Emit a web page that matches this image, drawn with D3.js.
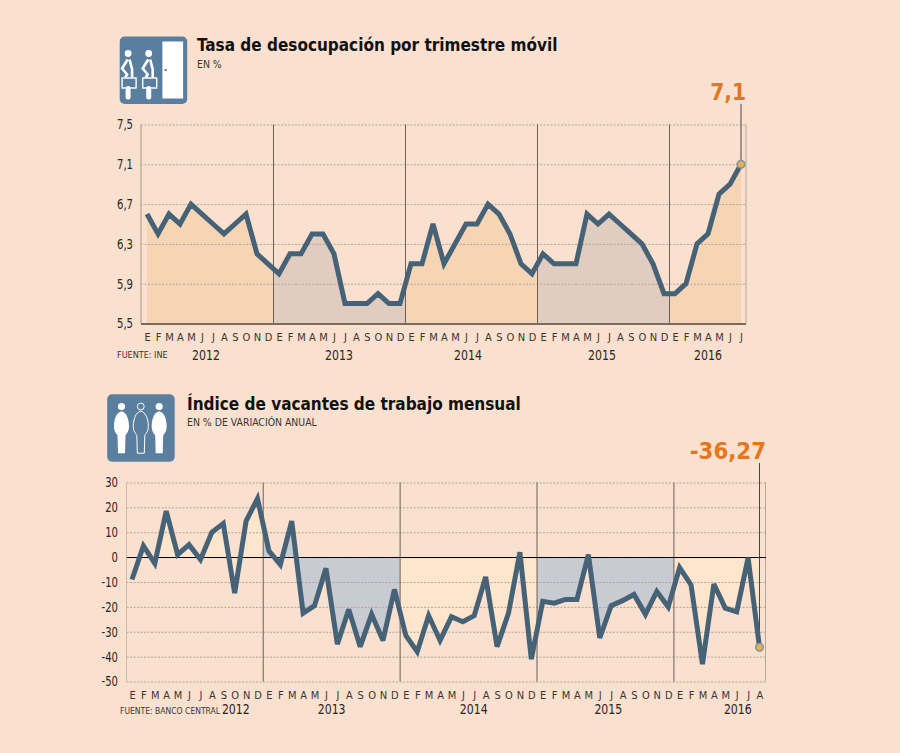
<!DOCTYPE html>
<html>
<head>
<meta charset="utf-8">
<script src="https://cdn.jsdelivr.net/npm/d3@7"></script>
<style>
  html, body { margin: 0; padding: 0; background: #f9e0cf; }
  svg { display: block; }
  text { font-family: "DejaVu Sans Condensed", "DejaVu Sans", sans-serif; fill: #2b2622; }
  .domain { display: none; }
  .grid line { stroke: #b5a497; stroke-width: 1; stroke-dasharray: 2 1.5; }
  .grid text { font-size: 14px; fill: #2b2622; }
  .months line { display: none; }
  .months text { font-size: 11px; fill: #3a3531; }
</style>
</head>
<body>
<div id="chart"></div>
<script>
const months = ['E', 'F', 'M', 'A', 'M', 'J', 'J', 'A', 'S', 'O', 'N', 'D'];
const years = ['2012', '2013', '2014', '2015', '2016'];

const desocupacion = [
  6.6, 6.4, 6.6, 6.5, 6.7, 6.6, 6.5, 6.4, 6.5, 6.6, 6.2, 6.1,
  6.0, 6.2, 6.2, 6.4, 6.4, 6.2, 5.7, 5.7, 5.7, 5.8, 5.7, 5.7,
  6.1, 6.1, 6.5, 6.1, 6.3, 6.5, 6.5, 6.7, 6.6, 6.4, 6.1, 6.0,
  6.2, 6.1, 6.1, 6.1, 6.6, 6.5, 6.6, 6.5, 6.4, 6.3, 6.1, 5.8,
  5.8, 5.9, 6.3, 6.4, 6.8, 6.9, 7.1
];
const desocupacionTicks = [5.5, 5.9, 6.3, 6.7, 7.1, 7.5];

const vacantes = [
  -9, 4.5, -2.5, 18.5, 1, 5, -1, 10, 13.5, -14.5, 14.5, 23.5,
  2.5, -3, 14.5, -22.5, -19.5, -4.5, -35, -21, -36, -23, -33.5, -13,
  -31.5, -38, -23.5, -33.5, -24, -26, -23.5, -8, -36, -22.5, 2, -41,
  -17.8, -18.5, -17, -17, 1, -32.5, -19.5, -17.5, -15, -23, -13.8, -20,
  -4.2, -11.2, -43, -10.8, -20.5, -22, -0.3, -36.27
];
const vacantesTicks = [-50, -40, -30, -20, -10, 0, 10, 20, 30];

const comma = d3.format('.1f');
const svg = d3.select('#chart').append('svg').attr('width', 900).attr('height', 753);
const defs = svg.append('defs');

// the original type is narrower than DejaVu Condensed, so squeeze it horizontally
function squeeze(sel, k) {
  sel.each(function () {
    d3.select(this)
      .attr('textLength', this.getComputedTextLength() * k)
      .attr('lengthAdjust', 'spacingAndGlyphs');
  });
}

function drawChart(o) {
  const x = d3.scaleLinear().domain([0, o.data.length - 1]).range([o.x0, o.x1]);
  const y = d3.scaleLinear().domain(o.domain).range([o.bottom, o.top]);
  const g = svg.append('g');

  // one clip band per year so each year gets its own fill
  years.forEach((yr, i) => {
    const a = i === 0 ? 0 : i * 12 - 0.5;
    const b = i === years.length - 1 ? o.data.length - 1 : (i + 1) * 12 - 0.5;
    defs.append('clipPath').attr('id', `${o.id}-${yr}`).append('rect')
      .attr('x', x(a)).attr('width', x(b) - x(a))
      .attr('y', 0).attr('height', 753);
    g.append('path')
      .datum(o.data)
      .attr('clip-path', `url(#${o.id}-${yr})`)
      .attr('fill', o.fills[i % 2])
      .attr('d', d3.area().x((d, j) => x(j)).y0(y(o.base)).y1(d => y(d)));
  });

  g.append('g').attr('class', 'grid')
    .attr('transform', `translate(${o.left},0)`)
    .call(d3.axisLeft(y).tickValues(o.ticks).tickFormat(o.tickFormat)
      .tickSize(o.left - o.right).tickPadding(8))
    .call(s => s.selectAll('text').attr('x', o.labelX - o.left).call(squeeze, 0.8));

  // frame
  g.append('line').attr('x1', o.left).attr('x2', o.left).attr('y1', y(o.domain[1])).attr('y2', y(o.domain[0]))
    .attr('stroke', '#cdbba8').attr('stroke-width', o.leftWidth);
  g.append('line').attr('x1', o.right).attr('x2', o.right).attr('y1', y(o.domain[1])).attr('y2', y(o.domain[0]))
    .attr('stroke', '#b8a696').attr('stroke-width', 1);

  // year dividers
  years.slice(1).forEach((yr, i) => {
    const px = x((i + 1) * 12 - 0.5);
    g.append('line').attr('x1', px).attr('x2', px).attr('y1', y(o.domain[1])).attr('y2', y(o.domain[0]))
      .attr('stroke', '#6e5f55').attr('stroke-width', 1);
  });

  // base line
  g.append('line').attr('x1', o.left).attr('x2', o.right).attr('y1', y(o.base)).attr('y2', y(o.base))
    .attr('stroke', o.baseColor).attr('stroke-width', o.baseWidth).attr('shape-rendering', 'crispEdges');

  g.append('g').attr('class', 'months')
    .attr('transform', `translate(0,${o.monthY})`)
    .call(d3.axisBottom(x).tickValues(d3.range(o.data.length))
      .tickFormat(i => months[i % 12]).tickSize(0).tickPadding(0));

  years.forEach((yr, i) => {
    g.append('text').attr('x', x(o.yearAt[i])).attr('y', o.yearY).attr('text-anchor', 'middle')
      .style('font-size', '14px').text(yr).call(squeeze, 0.87);
  });

  const last = o.data.length - 1;
  g.append('line').attr('x1', x(last)).attr('x2', x(last))
    .attr('y1', o.leaderTop).attr('y2', y(o.data[last]))
    .attr('stroke', '#4d4540').attr('stroke-width', 1);

  g.append('path').datum(o.data)
    .attr('fill', 'none').attr('stroke', '#466277').attr('stroke-width', 5)
    .attr('stroke-linejoin', 'miter').attr('stroke-miterlimit', 3)
    .attr('d', d3.line().x((d, j) => x(j)).y(d => y(d)));

  g.append('circle').attr('cx', x(last)).attr('cy', y(o.data[last])).attr('r', 3.8)
    .attr('fill', '#f0ae45').attr('stroke', '#7d97a8').attr('stroke-width', 1.6);

  g.append('text').attr('x', o.bigX).attr('y', o.bigY).attr('text-anchor', 'end')
    .style('font-size', o.bigSize).style('font-weight', 'bold').style('fill', '#e5761d').text(o.big);

  g.append('text').attr('x', o.titleX).attr('y', o.titleY)
    .style('font-size', '17px').style('font-weight', 'bold').style('fill', '#111').text(o.title);
  g.append('text').attr('x', o.titleX).attr('y', o.subY)
    .style('font-size', '10.4px').style('fill', '#3a3531').text(o.sub);
  g.append('text').attr('x', o.srcX).attr('y', o.srcY)
    .style('font-size', o.srcSize).style('fill', '#3a3531').text(o.src);
}

drawChart({
  id: 'des', data: desocupacion, ticks: desocupacionTicks, domain: [5.5, 7.5], base: 5.5,
  tickFormat: d => comma(d).replace('.', ','),
  x0: 147, x1: 741, left: 141, right: 746, top: 124.5, bottom: 323.5, labelX: 133,
  fills: ['#f6d5b5', '#e0cdbf'], baseColor: '#7a6b60', baseWidth: 2, leftWidth: 2,
  monthY: 333, yearAt: [5.36, 17.45, 29.18, 41.36, 51], yearY: 360,
  leaderTop: 104, big: '7,1', bigX: 746, bigY: 100, bigSize: '22.5px',
  title: 'Tasa de desocupación por trimestre móvil', titleX: 197, titleY: 51,
  sub: 'EN %', subY: 68, src: 'FUENTE: INE', srcX: 117, srcY: 358, srcSize: '9px'
});

drawChart({
  id: 'vac', data: vacantes, ticks: vacantesTicks, domain: [-50, 30], base: 0,
  tickFormat: d => d,
  x0: 132, x1: 759.5, left: 126.5, right: 765.5, top: 482.5, bottom: 681.5, labelX: 118,
  fills: ['#fde6cc', '#c8ccd2'], baseColor: '#000', baseWidth: 1, leftWidth: 1,
  monthY: 691, yearAt: [9.1, 17.5, 29.95, 41.75, 53.1], yearY: 714,
  leaderTop: 463, big: '-36,27', bigX: 766, bigY: 458.5, bigSize: '23.7px',
  title: 'Índice de vacantes de trabajo mensual', titleX: 187, titleY: 410,
  sub: 'EN % DE VARIACIÓN ANUAL', subY: 426, src: 'FUENTE: BANCO CENTRAL', srcX: 120, srcY: 714, srcSize: '8.5px'
});

// icons
const iconBlue = '#5a7f9e';

function iconBox(px, py) {
  const g = svg.append('g').attr('transform', `translate(${px},${py})`);
  g.append('rect').attr('width', 67.5).attr('height', 67.5).attr('rx', 5).attr('fill', iconBlue);
  return g;
}

const doorIcon = iconBox(119.7, 36.5);
[8.4, 29].forEach(cx => {
  const p = doorIcon.append('g').attr('transform', `translate(${cx},0)`);
  p.append('circle').attr('cx', 0).attr('cy', 17).attr('r', 3.4).attr('fill', '#fff');
  p.append('path').attr('d', 'M-0.5,23 L-6,32 L-1,38 L-3,41 M1.5,23 L4,33 L4,41')
    .attr('fill', 'none').attr('stroke', '#fff').attr('stroke-width', 2.6);
  p.append('rect').attr('x', -6).attr('y', 41.5).attr('width', 14).attr('height', 10)
    .attr('fill', iconBlue).attr('stroke', '#fff').attr('stroke-width', 1.4);
  p.append('line').attr('x1', 0).attr('x2', 0).attr('y1', 52).attr('y2', 60.5)
    .attr('stroke', '#fff').attr('stroke-width', 5).attr('stroke-linecap', 'round');
});
doorIcon.append('rect').attr('x', 42.7).attr('y', 5).attr('width', 20.7).attr('height', 57).attr('fill', '#fff');
doorIcon.append('circle').attr('cx', 46).attr('cy', 33.5).attr('r', 1.2).attr('fill', iconBlue);

const peopleIcon = iconBox(107.2, 394.2);
const bodyPath = 'M0,17 C-5,18 -7.5,25 -7.5,32 C-7.5,37 -5.5,39 -4,41 L-3.5,59 L3.5,59 L4,41 C5.5,39 7.5,37 7.5,32 C7.5,25 5,18 0,17 Z';
[[14.3, true], [33.6, false], [52, true]].forEach(([cx, solid]) => {
  const p = peopleIcon.append('g').attr('transform', `translate(${cx},0)`);
  p.append('circle').attr('cy', 12.3).attr('r', solid ? 3.6 : 3.4)
    .attr('fill', solid ? '#fff' : iconBlue).attr('stroke', '#fff').attr('stroke-width', solid ? 0 : 1);
  p.append('path').attr('d', bodyPath)
    .attr('fill', solid ? '#fff' : iconBlue).attr('stroke', '#fff').attr('stroke-width', solid ? 0 : 1);
});
</script>
</body>
</html>
